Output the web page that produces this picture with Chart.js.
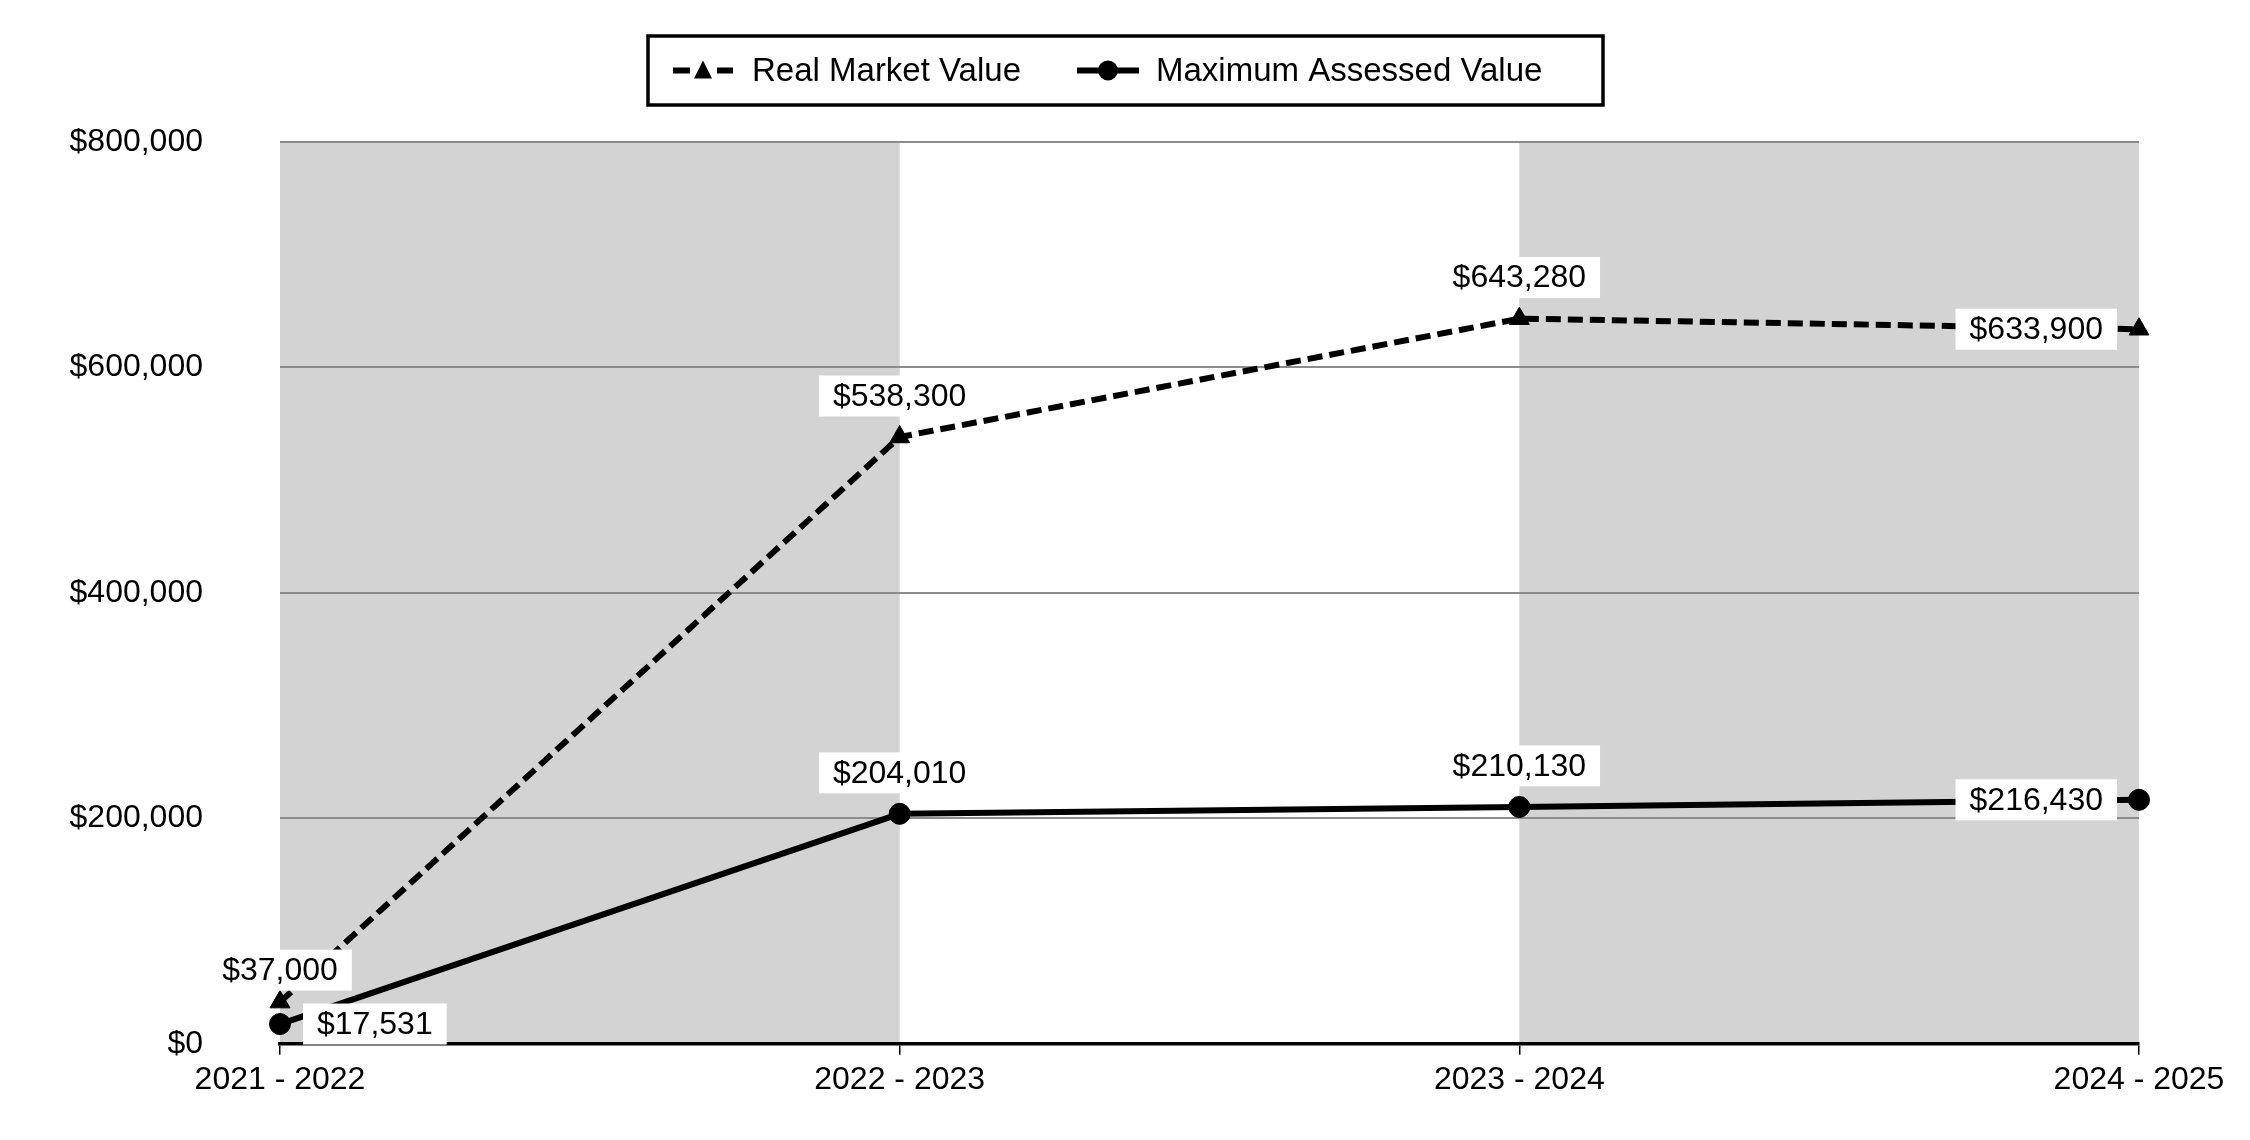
<!DOCTYPE html>
<html>
<head>
<meta charset="utf-8">
<script src="https://cdn.jsdelivr.net/npm/chart.js@4.4.1/dist/chart.umd.min.js"></script>
<style>
  html, body { margin: 0; padding: 0; background: #fff; }
  #wrap { width: 2250px; height: 1140px; position: relative; }
</style>
</head>
<body>
<div id="wrap"><canvas id="valueChart"></canvas></div>
<script>
// --- chart data ---
const years = ['2021 - 2022', '2022 - 2023', '2023 - 2024', '2024 - 2025'];
const realMarketValue = [37000, 538300, 643280, 633900];
const maxAssessedValue = [17531, 204010, 210130, 216430];
const yTickValues = [0, 200000, 400000, 600000, 800000];
// where each value label sits relative to its point
const rmvLabelPos = ['topNear', 'top', 'top', 'left'];
const mavLabelPos = ['right', 'top', 'top', 'left'];

const FONT = '"Liberation Sans", Arial, sans-serif';

function money(v) {
    return '$' + Number(v).toLocaleString('en-US');
}

// grey bands behind every other year column
var bandPlugin = {
    id: 'bands',
    beforeDraw: function (chart) {
        var ctx = chart.ctx, area = chart.chartArea, x = chart.scales.x;
        ctx.save();
        ctx.fillStyle = '#d3d3d3';
        for (var i = 0; i < years.length - 1; i += 2) {
            var x0 = x.getPixelForValue(i), x1 = x.getPixelForValue(i + 1);
            ctx.fillRect(x0, area.top, x1 - x0, area.bottom - area.top);
        }
        ctx.restore();
    }
};

// white boxed value labels
var valueLabelPlugin = {
    id: 'valueLabels',
    afterDatasetsDraw: function (chart) {
        var ctx = chart.ctx;
        ctx.save();
        ctx.font = '32px ' + FONT;
        ctx.textBaseline = 'middle';
        ctx.textAlign = 'left';
        chart.data.datasets.forEach(function (ds, di) {
            var meta = chart.getDatasetMeta(di);
            var positions = ds.labelPos || [];
            meta.data.forEach(function (pt, i) {
                var txt = money(ds.data[i]);
                var tw = ctx.measureText(txt).width;
                var padX = 14, boxH = 41, boxW = tw + padX * 2;
                var cx, cy;
                var pos = positions[i] || 'top';
                if (pos === 'top') { cx = pt.x; cy = pt.y - 41; }
                else if (pos === 'topNear') { cx = pt.x; cy = pt.y - 32; }
                else if (pos === 'left') { cx = pt.x - 22 - boxW / 2; cy = pt.y; }
                else { cx = pt.x + 23 + boxW / 2; cy = pt.y; }
                ctx.fillStyle = '#ffffff';
                ctx.fillRect(cx - boxW / 2, cy - boxH / 2, boxW, boxH);
                ctx.fillStyle = '#000000';
                ctx.fillText(txt, cx - tw / 2, cy + 1);
            });
        });
        ctx.restore();
    }
};

// boxed legend at the top
var boxLegendPlugin = {
    id: 'boxLegend',
    afterDraw: function (chart) {
        var ctx = chart.ctx;
        var boxW = 955, boxH = 69, top = 36;
        var left = Math.round(chart.width / 2 - boxW / 2);
        var cy = top + boxH / 2;
        ctx.save();
        ctx.strokeStyle = '#000';
        ctx.lineWidth = 3.5;
        ctx.strokeRect(left, top, boxW, boxH);
        ctx.font = '33px ' + FONT;
        ctx.textBaseline = 'middle';
        ctx.fillStyle = '#000';

        // item 1: dashed line with triangle
        var sx = left + 25;
        ctx.lineWidth = 6;
        ctx.beginPath();
        ctx.moveTo(sx, cy); ctx.lineTo(sx + 17, cy);
        ctx.moveTo(sx + 44, cy); ctx.lineTo(sx + 60, cy);
        ctx.stroke();
        ctx.beginPath();
        ctx.moveTo(sx + 30, cy - 10);
        ctx.lineTo(sx + 39, cy + 8);
        ctx.lineTo(sx + 21, cy + 8);
        ctx.closePath();
        ctx.fill();
        ctx.fillText('Real Market Value', sx + 79, cy + 1);

        // item 2: solid line with circle
        var sx2 = left + 429;
        ctx.beginPath();
        ctx.moveTo(sx2, cy); ctx.lineTo(sx2 + 62, cy);
        ctx.stroke();
        ctx.beginPath();
        ctx.arc(sx2 + 31, cy, 10, 0, Math.PI * 2);
        ctx.fill();
        ctx.fillText('Maximum Assessed Value', sx2 + 79, cy + 1);
        ctx.restore();
    }
};

var ctxValue = document.getElementById('valueChart');
new Chart(ctxValue, {
    type: 'line',
    data: {
        labels: years,
        datasets: [{
            label: 'Real Market Value',
            data: realMarketValue,
            labelPos: rmvLabelPos,
            borderColor: '#000',
            backgroundColor: '#000',
            borderWidth: 6,
            borderDash: [15, 7],
            pointStyle: 'triangle',
            pointRadius: 11.5,
            pointHoverRadius: 11.5,
            pointBorderWidth: 1,
            fill: false,
            tension: 0,
            clip: false
        }, {
            label: 'Maximum Assessed Value',
            data: maxAssessedValue,
            labelPos: mavLabelPos,
            borderColor: '#000',
            backgroundColor: '#000',
            borderWidth: 6,
            pointStyle: 'circle',
            pointRadius: 10.5,
            pointHoverRadius: 10.5,
            pointBorderWidth: 1,
            fill: false,
            tension: 0,
            clip: false
        }]
    },
    options: {
        responsive: true, maintainAspectRatio: false, devicePixelRatio: 1,
        animation: false,
        layout: { padding: { top: 142, right: 111, bottom: 0, left: 0 } },
        scales: {
            x: {
                offset: false,
                afterFit: function (scale) { scale.height = 83; },
                grid: { drawOnChartArea: false, drawTicks: true, tickLength: 11, color: '#000', lineWidth: 1.5 },
                border: { display: true, color: '#000', width: 3.5 },
                ticks: { color: '#000', font: { family: FONT, size: 32 }, padding: 6, maxRotation: 0, autoSkip: false }
            },
            y: {
                min: 0, max: 800000,
                afterFit: function (scale) { scale.width = 280; },
                afterBuildTicks: function (scale) {
                    scale.ticks = yTickValues.map(function (v) { return { value: v }; });
                },
                grid: { drawTicks: false, color: '#8c8c8c', lineWidth: 2 },
                border: { display: false },
                ticks: {
                    color: '#000', font: { family: FONT, size: 32 }, padding: 77,
                    callback: function (v) { return money(v); }
                }
            }
        },
        plugins: {
            legend: { display: false },
            title: { display: false },
            tooltip: { enabled: false }
        }
    },
    plugins: [bandPlugin, valueLabelPlugin, boxLegendPlugin]
});
</script>
</body>
</html>
